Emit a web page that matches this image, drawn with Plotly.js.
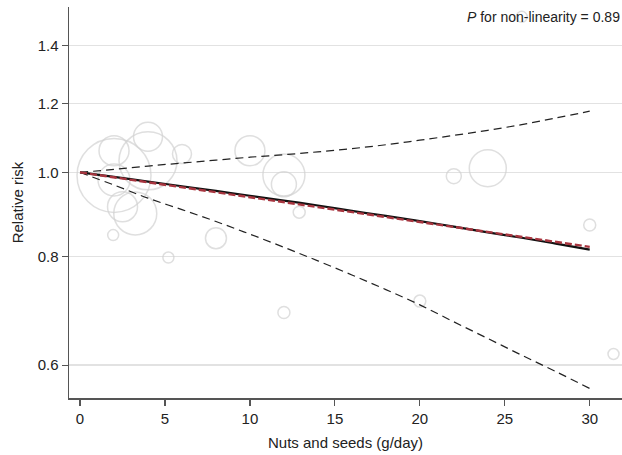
<!DOCTYPE html>
<html>
<head>
<meta charset="utf-8">
<script src="https://cdn.plot.ly/plotly-3.0.1.min.js"></script>
<style>html,body{margin:0;padding:0;background:#fff;}#chart{width:622px;height:455px;}</style>
</head>
<body>
<div id="chart"></div>
<script>
// Fitted dose-response curves (nuts and seeds, g/day) vs relative risk
const doseGrid = [0, 2, 4, 6, 8, 10, 12, 14, 16, 18, 20, 22, 24, 26, 28, 30];
const rrNonLinear = [1.000, 0.988, 0.976, 0.964, 0.952, 0.940, 0.928, 0.916, 0.903, 0.891, 0.879, 0.866, 0.853, 0.841, 0.828, 0.815];
const rrLinear = [1.000, 0.987, 0.974, 0.961, 0.949, 0.936, 0.924, 0.912, 0.900, 0.888, 0.877, 0.865, 0.854, 0.843, 0.832, 0.821];
const ciUpper = [1.000, 1.008, 1.017, 1.025, 1.033, 1.041, 1.048, 1.056, 1.065, 1.076, 1.089, 1.103, 1.118, 1.135, 1.155, 1.176];
const ciLower = [1.000, 0.967, 0.934, 0.906, 0.878, 0.849, 0.820, 0.791, 0.762, 0.733, 0.704, 0.673, 0.644, 0.616, 0.590, 0.564];

// Study-specific estimates (bubble size ~ study weight)
const studyDose = [2.0, 2.0, 4.0, 4.0, 6.0, 2.0, 2.5, 3.25, 1.95, 5.2, 8.0, 12.0, 10.0, 12.0, 12.0, 12.9, 22.0, 24.0, 30.0, 20.0, 31.4, 26.0];
const studyRR = [0.992, 1.059, 1.099, 1.031, 1.050, 0.980, 0.913, 0.897, 0.847, 0.798, 0.840, 0.690, 1.059, 0.993, 0.969, 0.900, 0.990, 1.011, 0.870, 0.711, 0.618, 1.510];
const studyWeight = [74, 30, 29, 58, 19, 32, 30, 43, 11, 11, 21, 12, 30, 42, 25, 12, 15, 37, 12, 12, 11, 11];

const yTicks = [0.6, 0.8, 1.0, 1.2, 1.4];
const yTickText = ['0.6', '0.8', '1.0', '1.2', '1.4'];
const xTicks = [0, 5, 10, 15, 20, 25, 30];

const FONT = 'Liberation Sans, Arial, Helvetica, sans-serif';

const traces = [
  {
    x: studyDose, y: studyRR, type: 'scatter', mode: 'markers',
    marker: {size: studyWeight, sizemode: 'diameter', color: 'rgba(0,0,0,0)',
             line: {color: '#d2d2d2', width: 1.5}},
    hoverinfo: 'skip', showlegend: false
  },
  {
    x: doseGrid, y: ciUpper, type: 'scatter', mode: 'lines',
    line: {color: '#222', width: 1.2, dash: '8px,5px', shape: 'spline'},
    showlegend: false
  },
  {
    x: doseGrid, y: ciLower, type: 'scatter', mode: 'lines',
    line: {color: '#222', width: 1.2, dash: '8px,5px', shape: 'spline'},
    showlegend: false
  },
  {
    x: doseGrid, y: rrNonLinear, type: 'scatter', mode: 'lines',
    line: {color: '#111', width: 2.2, shape: 'spline'},
    showlegend: false
  },
  {
    x: doseGrid, y: rrLinear, type: 'scatter', mode: 'lines',
    line: {color: '#a8353f', width: 2.4, dash: '7px,3px'},
    showlegend: false
  }
];

const layout = {
  width: 622, height: 455,
  margin: {l: 69, r: 0, t: 7, b: 57, pad: 0},
  paper_bgcolor: '#fff', plot_bgcolor: '#fff',
  font: {family: FONT, size: 15, color: '#222'},
  showlegend: false,
  xaxis: {
    range: [-0.65, 31.9],
    tickvals: xTicks,
    ticks: 'outside', ticklen: 6, tickwidth: 1.2, tickcolor: '#555',
    showgrid: false, zeroline: false,
    showline: true, linecolor: '#555', linewidth: 1.5,
    tickfont: {size: 15, color: '#222'},
    title: {text: 'Nuts and seeds (g/day)', font: {size: 15, color: '#222'}, standoff: 12},
    automargin: false
  },
  yaxis: {
    type: 'log',
    range: [Math.log10(0.55), Math.log10(1.55)],
    tickvals: yTicks, ticktext: yTickText,
    ticks: 'outside', ticklen: 6, tickwidth: 1.2, tickcolor: '#555',
    showgrid: true, gridcolor: '#e2e2e2', gridwidth: 1.5,
    zeroline: false,
    showline: true, linecolor: '#555', linewidth: 1.5,
    tickfont: {size: 15, color: '#222'},
    title: {text: 'Relative risk', font: {size: 15, color: '#222'}, standoff: 10},
    automargin: false
  },
  annotations: [{
    xref: 'paper', yref: 'paper', x: 1, y: 1, xanchor: 'right', yanchor: 'top',
    text: '<i>P</i> for non-linearity = 0.89', showarrow: false,
    font: {family: FONT, size: 14, color: '#222'}
  }]
};

Plotly.newPlot('chart', traces, layout, {staticPlot: true, displayModeBar: false});
</script>
</body>
</html>
